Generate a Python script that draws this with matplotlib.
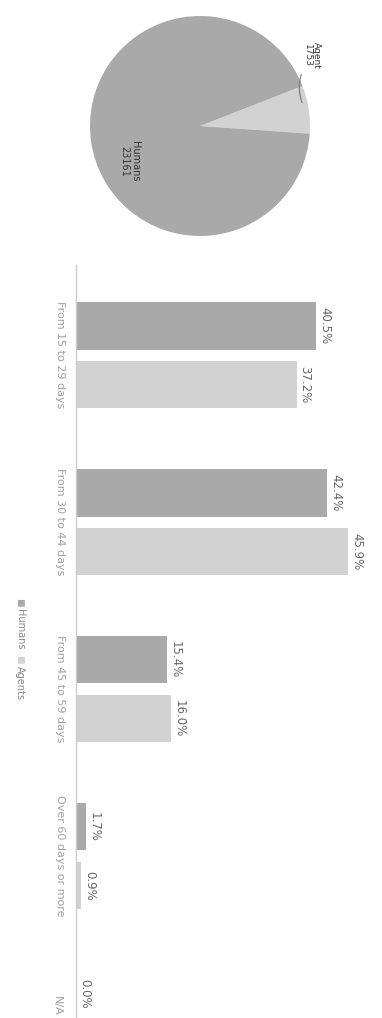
import matplotlib.pyplot as plt
import numpy as np

# chart is drawn turned a quarter turn clockwise, like the reference
categories = ["From 15 to 29 days", "From 30 to 44 days", "From 45 to 59 days",
              "Over 60 days or more", "N/A"]
humans_pct = [40.5, 42.4, 15.4, 1.7, 0.0]
agents_pct = [37.2, 45.9, 16.0, 0.9, 0.0]

pie_labels = ["Agent", "Humans"]
pie_counts = [1753, 23161]

c_humans = "#a9a9a9"
c_agents = "#d2d2d2"
txt = "#666666"

W, H = 382, 1018
fig = plt.figure(figsize=(W / 100, H / 100), dpi=100)

# ---- pie ----
cx, cy, r = 200, 126, 110
pax = fig.add_axes([(cx - r) / W, 1 - (cy + r) / H, 2 * r / W, 2 * r / H])
wedges, _ = pax.pie(pie_counts, colors=[c_agents, c_humans], startangle=-4,
                    counterclock=True, radius=1.0)
pax.set_xlim(-1, 1)
pax.set_ylim(-1, 1)
pax.set_aspect("auto")
pax.text(-0.64, -0.32, f"{pie_labels[1]}\n{pie_counts[1]}", rotation=-90,
         ha="center", va="center", fontsize=7, color="#333333", linespacing=1.0)
pax.annotate(f"{pie_labels[0]}\n{pie_counts[0]}", xy=(0.97, 0.12), xytext=(1.02, 0.64),
             rotation=-90, ha="center", va="center", fontsize=6.5, color="#333333",
             linespacing=1.0, annotation_clip=False,
             arrowprops=dict(arrowstyle="-", color="#777777", lw=0.8, shrinkB=8,
                             connectionstyle="arc3,rad=0.35"))

# ---- bars ----
x0 = 76
top = 265
ax = fig.add_axes([x0 / W, 0, (W - x0) / W, (H - top) / H])
pos = np.arange(len(categories))
off = 0.176
hb = 0.285
ax.barh(pos - off, humans_pct, height=hb, color=c_humans)
ax.barh(pos + off, agents_pct, height=hb, color=c_agents)
ax.set_xlim(0, (W - x0) / 5.93)
ax.set_ylim(3.97, -0.54)

for i in range(len(categories)):
    ax.text(humans_pct[i] + 1.4, pos[i] - off, f"{humans_pct[i]:.1f}%", rotation=-90,
            ha="center", va="center", fontsize=8.5, color=txt)
    if i < len(categories) - 1:
        ax.text(agents_pct[i] + 1.4, pos[i] + off, f"{agents_pct[i]:.1f}%", rotation=-90,
                ha="center", va="center", fontsize=8.5, color=txt)

ax.set_yticks(pos[:-1])
ax.set_yticklabels(categories[:-1], rotation=-90, va="center", fontsize=8, color="#a0a0a0")
ax.tick_params(axis="y", length=0, pad=8)
ax.text(-3.2, pos[-1] - 0.1, categories[-1], rotation=-90, ha="center", va="center",
        fontsize=8, color="#a0a0a0")
ax.set_xticks([])
for s in ["top", "right", "bottom"]:
    ax.spines[s].set_visible(False)
ax.spines["left"].set_color("#cccccc")
ax.spines["left"].set_linewidth(1.0)

# ---- legend ----
fig.text(20 / W, 1 - 598 / H, "\u25a0", rotation=-90, ha="center", va="top",
         fontsize=6.5, color=c_humans)
fig.text(20 / W, 1 - 609 / H, "Humans", rotation=-90, ha="center", va="top",
         fontsize=7, color="#888888")
fig.text(20 / W, 1 - 655 / H, "\u25a0", rotation=-90, ha="center", va="top",
         fontsize=6.5, color=c_agents)
fig.text(20 / W, 1 - 666 / H, "Agents", rotation=-90, ha="center", va="top",
         fontsize=7, color="#888888")

fig.savefig("out.png", dpi=100)
